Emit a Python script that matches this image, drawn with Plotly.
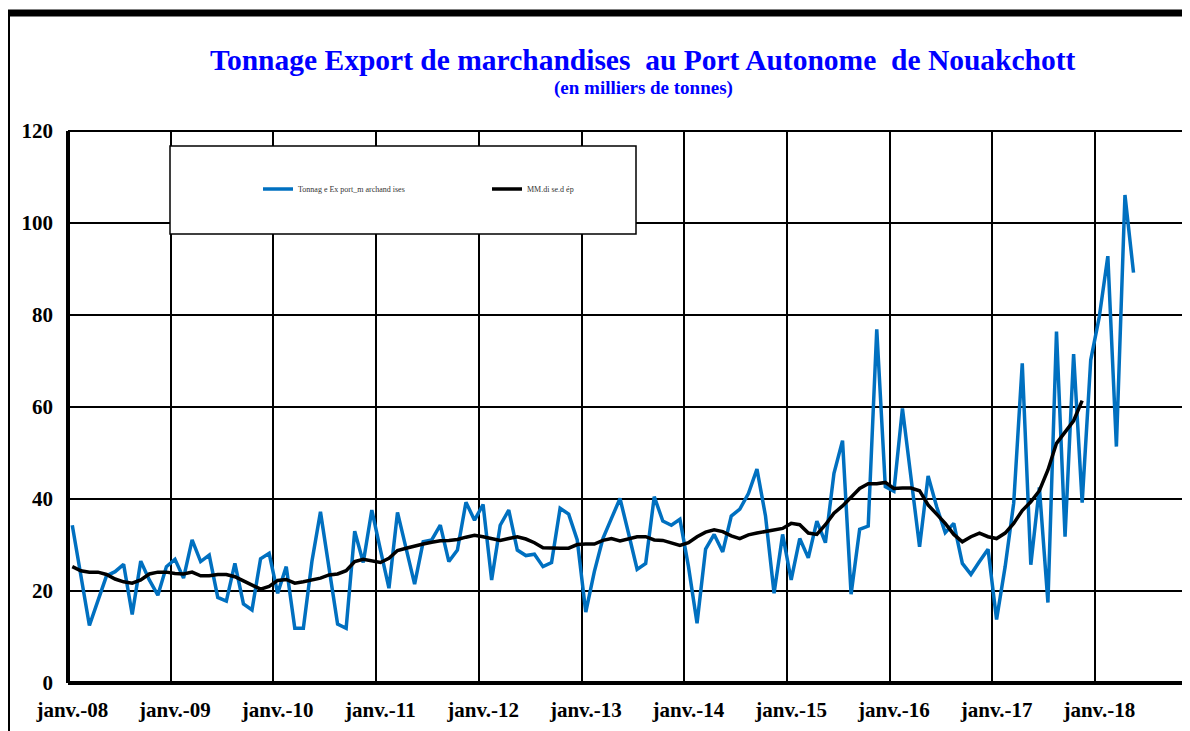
import plotly.graph_objects as go

# Monthly data, janv. 2008 onward (index 0 = janv.-08)
tonnage = [34.3, 23.5, 12.5, 17.9, 23.3, 24.2, 25.8, 14.9, 26.5, 22.4, 19.1, 25.3,
           26.9, 22.8, 31.1, 26.4, 27.8, 18.6, 17.8, 26.0, 17.2, 15.9, 27.0, 28.2,
           19.5, 25.3, 11.9, 11.9, 26.4, 37.2, 25.0, 12.8, 11.9, 33.0, 26.2, 37.6,
           29.0, 20.6, 37.1, 29.0, 21.5, 30.7, 31.1, 34.3, 26.4, 28.9, 39.3, 35.4,
           38.8, 22.4, 34.3, 37.6, 28.9, 27.7, 28.0, 25.3, 26.2, 38.0, 36.7, 31.1,
           15.4, 24.2, 31.4, 35.8, 40.1, 32.5, 24.7, 26.0, 40.5, 35.2, 34.3, 35.6,
           25.3, 13.0, 29.1, 32.3, 28.5, 36.3, 37.8, 41.2, 46.5, 36.3, 19.5, 32.3,
           22.4, 31.4, 27.2, 35.2, 30.5, 45.6, 52.7, 19.3, 33.4, 34.1, 76.9, 42.7,
           41.7, 59.7, 44.6, 29.6, 45.0, 38.3, 32.7, 34.7, 26.0, 23.6, 26.4, 29.1,
           13.8, 25.3, 39.1, 69.5, 25.7, 42.5, 17.5, 76.4, 31.8, 71.5, 39.2, 70.2,
           79.6, 92.8, 51.4, 106.1, 89.2]

mm = [25.3, 24.4, 24.1, 24.1, 23.6, 22.6, 22.0, 21.7, 22.4, 23.7, 24.1, 24.1,
      23.8, 23.7, 24.1, 23.3, 23.3, 23.6, 23.6, 23.1, 22.2, 21.2, 20.4, 21.0,
      22.3, 22.5, 21.7, 22.0, 22.4, 22.8, 23.5, 23.7, 24.4, 26.4, 26.9, 26.5,
      26.2, 27.1, 28.8, 29.3, 29.8, 30.2, 30.6, 30.9, 31.0, 31.2, 31.7, 32.1,
      31.8, 31.4, 31.0, 31.4, 31.8, 31.3, 30.5, 29.4, 29.3, 29.3, 29.3, 30.1,
      30.2, 30.2, 31.0, 31.4, 30.9, 31.4, 31.8, 31.8, 31.1, 31.0, 30.4, 29.9,
      30.5, 31.8, 32.8, 33.3, 32.9, 32.0, 31.4, 32.2, 32.6, 32.9, 33.3, 33.6,
      34.7, 34.4, 32.6, 32.3, 34.4, 36.9, 38.5, 40.4, 42.3, 43.3, 43.3, 43.6,
      42.3, 42.4, 42.4, 41.8, 38.7, 36.7, 34.7, 32.3, 30.7, 31.8, 32.6, 31.8,
      31.4, 32.6, 34.7, 37.5, 39.4, 41.8, 46.3, 52.1, 54.6, 57.0, 61.4]

year_labels = ["janv.-08", "janv.-09", "janv.-10", "janv.-11", "janv.-12", "janv.-13",
               "janv.-14", "janv.-15", "janv.-16", "janv.-17", "janv.-18"]
y_ticks = [0, 20, 40, 60, 80, 100, 120]

months_t = list(range(len(tonnage)))
months_m = list(range(len(mm)))
label_pos = [12 * k for k in range(len(year_labels))]
boundaries = [12 * k - 0.5 for k in range(1, len(year_labels) + 1)]

SERIF = "Liberation Serif, Times New Roman, serif"

fig = go.Figure()
fig.add_trace(go.Scatter(x=months_t, y=tonnage, mode="lines",
                         name="Tonnag e Ex port_m archand ises",
                         line=dict(color="#0070C0", width=3.5)))
fig.add_trace(go.Scatter(x=months_m, y=mm, mode="lines",
                         name="MM.di se.d ép",
                         line=dict(color="#000000", width=3.5)))

# page body has an 8px margin, so the figure is 8px smaller and offsets reduced
fig.update_layout(
    width=1182, height=723,
    margin=dict(l=60, r=0, t=123, b=48),
    paper_bgcolor="white", plot_bgcolor="white",
    showlegend=True,
    legend=dict(orientation="h", x=(258 - 68) / 1122, y=0.895, xanchor="left", yanchor="middle",
                bgcolor="rgba(0,0,0,0)", borderwidth=0,
                font=dict(family=SERIF, size=8, color="#333333"),
                entrywidth=184, entrywidthmode="pixels"),
    xaxis=dict(range=[-0.5, 130.6], tickmode="array", tickvals=label_pos,
               ticktext=year_labels, showgrid=False, zeroline=False,
               showline=False, ticks="",
               tickfont=dict(family=SERIF, size=21, color="black", weight="bold"),
               ticklabelstandoff=12,
               minor=dict(tickmode="array", tickvals=boundaries, showgrid=True,
                          gridcolor="black", gridwidth=1.5, ticks="")),
    yaxis=dict(range=[0, 120], tickmode="array", tickvals=y_ticks,
               showgrid=True, gridcolor="black", gridwidth=1.5, zeroline=False,
               showline=False, ticks="inside", ticklen=4, tickwidth=2, tickcolor="black",
               tickfont=dict(family=SERIF, size=21, color="black", weight="bold"),
               ticklabelstandoff=14),
)

# axis lines (thick, Excel style)
fig.add_shape(type="line", xref="paper", yref="paper", x0=0, x1=1, y0=0, y1=0,
              line=dict(color="black", width=4), layer="above")
fig.add_shape(type="line", xref="paper", yref="paper", x0=0, x1=0, y0=0, y1=1,
              line=dict(color="black", width=4), layer="above")
fig.add_shape(type="line", xref="paper", yref="paper", x0=0, x1=1, y0=1, y1=1,
              line=dict(color="black", width=2), layer="above")

# legend box
fig.add_shape(type="rect", xref="paper", yref="paper",
              x0=(170 - 68) / 1122, x1=(636 - 68) / 1122,
              y0=(683 - 234) / 552, y1=(683 - 146) / 552,
              fillcolor="white", line=dict(color="black", width=1.5), layer="above")

# outer chart frame (top and left edges)
fig.add_shape(type="line", xref="paper", yref="paper",
              x0=(5 - 68) / 1122, x1=1.01, y0=(683 - 13) / 552, y1=(683 - 13) / 552,
              line=dict(color="black", width=7), layer="above")
fig.add_shape(type="line", xref="paper", yref="paper",
              x0=(9 - 68) / 1122, x1=(9 - 68) / 1122, y0=(683 - 13) / 552, y1=(683 - 740) / 552,
              line=dict(color="black", width=2), layer="above")

# titles
fig.add_annotation(text="Tonnage Export de marchandises  au Port Autonome  de Nouakchott",
                   xref="paper", yref="paper", x=(643 - 68) / 1122, y=(683 - 60) / 552,
                   showarrow=False, xanchor="center", yanchor="middle",
                   font=dict(family=SERIF, size=29.5, color="#0000FF", weight="bold"))
fig.add_annotation(text="(en milliers de tonnes)",
                   xref="paper", yref="paper", x=(643 - 68) / 1122, y=(683 - 88) / 552,
                   showarrow=False, xanchor="center", yanchor="middle",
                   font=dict(family=SERIF, size=19, color="#0000FF", weight="bold"))

fig.write_html("out.html")
